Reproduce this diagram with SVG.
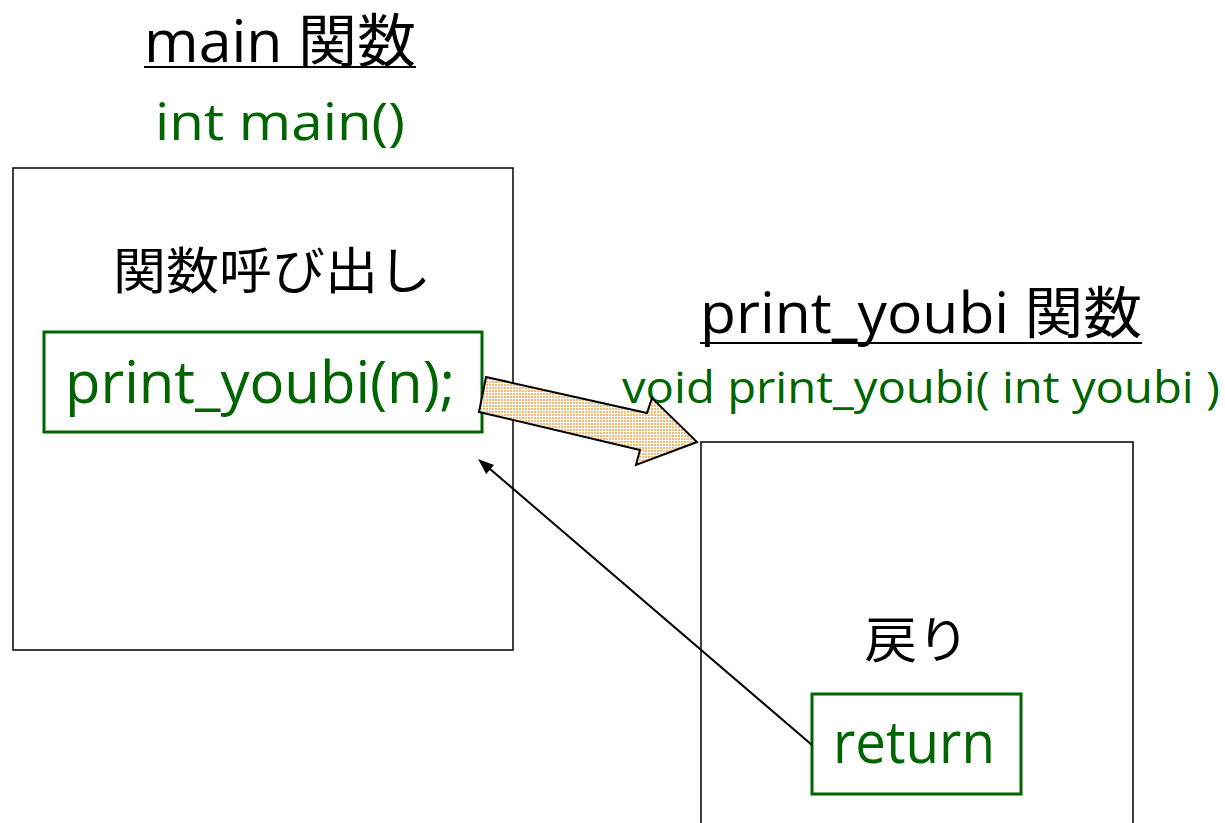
<svg xmlns="http://www.w3.org/2000/svg" width="1225" height="823" viewBox="0 0 1225 823">
<defs>
<style>
.t{font-family:"Open Sans","Noto Sans CJK JP",sans-serif;fill:#000}
.g{font-family:"Open Sans","Noto Sans CJK JP",sans-serif;fill:#006400}
.box{fill:#fff;stroke:#000;stroke-width:1.5}
.gbox{fill:#fff;stroke:#006400;stroke-width:3}
</style>
<pattern id="dots" width="3" height="3" patternUnits="userSpaceOnUse">
<rect width="3" height="3" fill="#fff"/>
<rect width="2" height="2" fill="#f9b872"/>
</pattern>
</defs>
<g id="titles">
<text class="t" x="144" y="62" font-size="58" textLength="272" lengthAdjust="spacingAndGlyphs">main 関数</text>
<line x1="144" y1="67" x2="416" y2="67" stroke="#000" stroke-width="2"/>
<text class="g" x="155" y="140" font-size="52" textLength="250" lengthAdjust="spacingAndGlyphs">int main()</text>
<text class="t" x="700" y="333" font-size="56" textLength="442" lengthAdjust="spacingAndGlyphs">print_youbi 関数</text>
<line x1="700" y1="343" x2="1142" y2="343" stroke="#000" stroke-width="2"/>
<text class="g" x="622" y="403" font-size="44" textLength="598" lengthAdjust="spacingAndGlyphs">void print_youbi( int youbi )</text>
</g>
<g id="main">
<rect class="box" x="13" y="168" width="500" height="482"/>
<text class="t" x="272" y="289" font-size="50" text-anchor="middle" textLength="318" lengthAdjust="spacingAndGlyphs">関数呼び出し</text>
</g>
<g id="call">
<rect class="gbox" x="44" y="332" width="438" height="100"/>
<text class="g" x="65" y="403" font-size="58" textLength="390" lengthAdjust="spacingAndGlyphs">print_youbi(n);</text>
</g>
<g id="print_youbi">
<rect class="box" x="701" y="442" width="432" height="400"/>
<text class="t" x="917" y="658" font-size="50" text-anchor="middle" textLength="105" lengthAdjust="spacingAndGlyphs">戻り</text>
</g>
<g id="ret">
<rect class="gbox" x="812" y="694" width="209" height="100"/>
<text class="g" x="833" y="763" font-size="58" textLength="162" lengthAdjust="spacingAndGlyphs">return</text>
</g>
<g id="connectors">
<path d="M486,377 L647,413 L652,398 L697,442 L636,465 L640,450 L479,412 Z" fill="url(#dots)" stroke="#000" stroke-width="2" stroke-linejoin="miter"/>
<line x1="812" y1="745" x2="490" y2="469" stroke="#000" stroke-width="2"/>
<polygon points="478,459 494,464.9 486.2,474" fill="#000"/>
</g>
</svg>
